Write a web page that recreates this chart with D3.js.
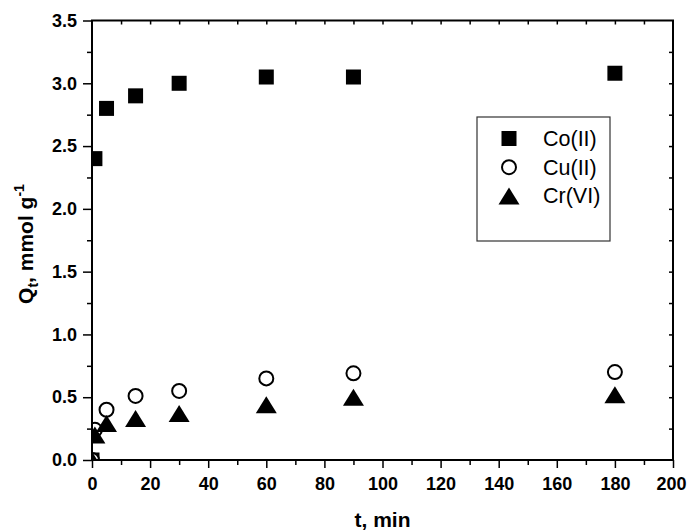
<!DOCTYPE html>
<html>
<head>
<meta charset="utf-8">
<script src="https://cdn.jsdelivr.net/npm/d3@7"></script>
<style>
  body { margin: 0; background: #fff; }
  svg { display: block; font-family: "Liberation Sans", Arial, sans-serif; }
</style>
</head>
<body>
<div id="chart"></div>
<script>
// sorption time (min) and uptake Q_t (mmol/g)
var timeMin = [0, 1, 5, 15, 30, 60, 90, 180];
var coII = [0, 2.40, 2.80, 2.90, 3.00, 3.05, 3.05, 3.08];
var cuII = [0, 0.24, 0.40, 0.51, 0.55, 0.65, 0.69, 0.70];
var crVI = [0, 0.20, 0.29, 0.33, 0.37, 0.44, 0.50, 0.52];

var seriesNames = ["Co(II)", "Cu(II)", "Cr(VI)"];
var seriesShapes = ["square", "circle", "triangle"];

var xTicks = d3.range(0, 201, 20);
var yTicks = d3.range(0, 3.51, 0.5);

var width = 687, height = 531;
var plotLeft = 92, plotRight = 673, plotTop = 20.5, plotBottom = 460;

var x = d3.scaleLinear().domain([0, 200]).range([plotLeft, plotRight]);
var y = d3.scaleLinear().domain([0, 3.5]).range([plotBottom, plotTop]);

var svg = d3.select("#chart").append("svg")
    .attr("width", width)
    .attr("height", height);

svg.append("defs").append("clipPath").attr("id", "plotclip")
  .append("rect")
    .attr("x", plotLeft).attr("y", plotTop)
    .attr("width", plotRight - plotLeft).attr("height", plotBottom - plotTop);

// draws one marker into a selection of g's
function drawMarker(sel, shape){
    if(shape === "square"){
        sel.append("rect")
            .attr("x", -7.5).attr("y", -7.5)
            .attr("width", 15).attr("height", 15)
            .attr("fill", "#000");
    } else if(shape === "circle"){
        sel.append("circle")
            .attr("r", 7)
            .attr("fill", "#fff")
            .attr("stroke", "#000")
            .attr("stroke-width", 2);
    } else {
        sel.append("path")
            .attr("d", "M0,-8.5L10.5,8.5L-10.5,8.5Z")
            .attr("fill", "#000");
    }
}

// points
var allSeries = [coII, cuII, crVI];
var pts = svg.append("g").attr("clip-path", "url(#plotclip)");
allSeries.forEach(function(vals, i){
    var g = pts.append("g").attr("class", "series-" + i)
        .selectAll("g")
        .data(timeMin.map(function(t, k){ return [t, vals[k]]; }))
        .enter()
        .append("g")
        .attr("transform", function(d){ return "translate(" + x(d[0]) + "," + y(d[1]) + ")"; });
    drawMarker(g, seriesShapes[i]);
});

// axes
function styleAxis(g){
    g.selectAll(".domain").remove();
    g.selectAll("line").attr("stroke", "#000").attr("stroke-width", 1.5);
    g.selectAll("text")
        .attr("fill", "#000")
        .style("font-size", "18px")
        .style("font-weight", "bold");
}

svg.append("g")
    .attr("transform", "translate(0," + plotBottom + ")")
    .call(d3.axisBottom(x).tickValues(d3.range(10, 200, 20)).tickSize(5).tickFormat(""))
    .call(styleAxis);
var xAxisG = svg.append("g")
    .attr("transform", "translate(0," + plotBottom + ")")
    .call(d3.axisBottom(x).tickValues(xTicks).tickSize(8).tickPadding(9))
    .call(styleAxis);
// last label sits at the window edge; keep it inside
xAxisG.selectAll(".tick text")
    .filter(function(d){ return d === 200; })
    .attr("text-anchor", "end")
    .attr("x", width - plotRight - 1);

svg.append("g")
    .attr("transform", "translate(" + plotLeft + ",0)")
    .call(d3.axisLeft(y).tickValues(d3.range(0.25, 3.5, 0.5)).tickSize(5).tickFormat(""))
    .call(styleAxis);
svg.append("g")
    .attr("transform", "translate(" + plotLeft + ",0)")
    .call(d3.axisLeft(y).tickValues(yTicks).tickSize(9).tickPadding(6).tickFormat(d3.format(".1f")))
    .call(styleAxis);

// inward ticks on top and right
svg.append("g")
    .attr("transform", "translate(0," + plotTop + ")")
    .call(d3.axisTop(x).tickValues(d3.range(10, 200, 10)).tickSize(-4).tickFormat(""))
    .call(styleAxis);
svg.append("g")
    .attr("transform", "translate(" + plotRight + ",0)")
    .call(d3.axisRight(y).tickValues(d3.range(0.25, 3.5, 0.25)).tickSize(-4).tickFormat(""))
    .call(styleAxis);

// frame
svg.append("rect")
    .attr("x", plotLeft).attr("y", plotTop)
    .attr("width", plotRight - plotLeft).attr("height", plotBottom - plotTop)
    .attr("fill", "none")
    .attr("stroke", "#000")
    .attr("stroke-width", 2);

// axis titles
svg.append("text")
    .attr("x", (plotLeft + plotRight) / 2)
    .attr("y", 527)
    .attr("text-anchor", "middle")
    .style("font-size", "21px")
    .style("font-weight", "bold")
    .text("t, min");

var yTitle = svg.append("text")
    .attr("transform", "translate(33,244) rotate(-90)")
    .attr("text-anchor", "middle")
    .style("font-size", "21px")
    .style("font-weight", "bold");
yTitle.append("tspan").text("Q");
yTitle.append("tspan").attr("dy", 5).style("font-size", "14px").text("t");
yTitle.append("tspan").attr("dy", -5).text(", mmol g");
yTitle.append("tspan").attr("dy", -9).style("font-size", "14px").text("-1");

// legend
var legend = svg.append("g").attr("class", "legend");
legend.append("rect")
    .attr("x", 477).attr("y", 117)
    .attr("width", 133).attr("height", 124)
    .attr("fill", "#fff")
    .attr("stroke", "#333")
    .attr("stroke-width", 1.2);

var rows = legend.selectAll(".row")
    .data(seriesNames)
    .enter()
    .append("g")
    .attr("class", "row")
    .attr("transform", function(d, i){ return "translate(509," + (138.5 + i * 28.7) + ")"; });

rows.each(function(d, i){
    drawMarker(d3.select(this), seriesShapes[i]);
});
rows.append("text")
    .attr("x", 34)
    .attr("y", 7.5)
    .style("font-size", "21.5px")
    .text(function(d){ return d; });
</script>
</body>
</html>
